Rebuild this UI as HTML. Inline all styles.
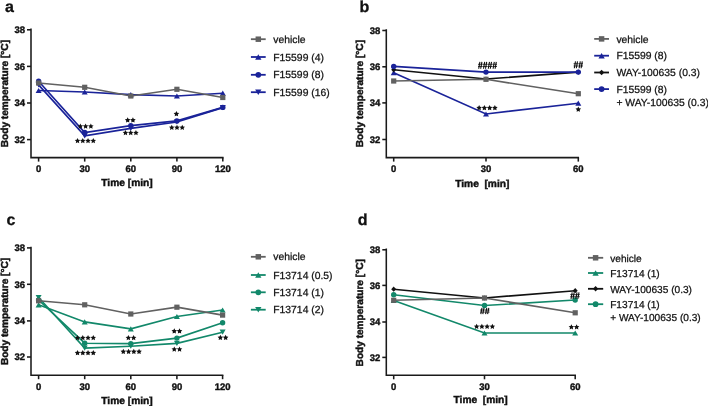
<!DOCTYPE html>
<html><head><meta charset="utf-8"><style>
html,body{margin:0;padding:0;background:#fff;width:708px;height:406px;overflow:hidden}
svg{display:block;font-family:"Liberation Sans", sans-serif;will-change:transform;filter:blur(0.35px)}
text{fill:#111;stroke:#111;font-family:"Liberation Sans", sans-serif;text-rendering:geometricPrecision}
.tk{font-size:9.5px;font-weight:bold;letter-spacing:-0.05px;stroke-width:0.4px}
.xl{font-size:10.2px;font-weight:bold;stroke-width:0.45px}
.yl{font-size:10.1px;font-weight:bold;stroke-width:0.45px}
.pl{font-size:16px;font-weight:bold;stroke-width:0.3px}
.lg{font-size:10.35px;stroke-width:0.25px}
</style></head><body>
<svg width="708" height="406" viewBox="0 0 708 406">
<path d="M31,29.2 V157.6 H222.8" fill="none" stroke="#1a1a1a" stroke-width="1.55" stroke-linejoin="miter" stroke-linecap="square"/><line x1="27" y1="29.8" x2="31" y2="29.8" stroke="#1a1a1a" stroke-width="1.55"/><text x="25" y="33.2" class="tk" text-anchor="end">38</text><line x1="27" y1="66.4" x2="31" y2="66.4" stroke="#1a1a1a" stroke-width="1.55"/><text x="25" y="69.8" class="tk" text-anchor="end">36</text><line x1="27" y1="103" x2="31" y2="103" stroke="#1a1a1a" stroke-width="1.55"/><text x="25" y="106.4" class="tk" text-anchor="end">34</text><line x1="27" y1="139.6" x2="31" y2="139.6" stroke="#1a1a1a" stroke-width="1.55"/><text x="25" y="143" class="tk" text-anchor="end">32</text><line x1="38.6" y1="157.6" x2="38.6" y2="161.6" stroke="#1a1a1a" stroke-width="1.55"/><text x="38.6" y="172.3" class="tk" text-anchor="middle">0</text><line x1="84.7" y1="157.6" x2="84.7" y2="161.6" stroke="#1a1a1a" stroke-width="1.55"/><text x="84.7" y="172.3" class="tk" text-anchor="middle">30</text><line x1="130.8" y1="157.6" x2="130.8" y2="161.6" stroke="#1a1a1a" stroke-width="1.55"/><text x="130.8" y="172.3" class="tk" text-anchor="middle">60</text><line x1="176.9" y1="157.6" x2="176.9" y2="161.6" stroke="#1a1a1a" stroke-width="1.55"/><text x="176.9" y="172.3" class="tk" text-anchor="middle">90</text><line x1="222.8" y1="157.6" x2="222.8" y2="161.6" stroke="#1a1a1a" stroke-width="1.55"/><text x="222.8" y="172.3" class="tk" text-anchor="middle">120</text><text x="127" y="185.6" class="xl" text-anchor="middle" xml:space="preserve">Time [min]</text><text transform="translate(8,93.6) rotate(-90)" x="0" y="0" class="yl" text-anchor="middle">Body temperature [°C]</text><text x="5" y="11.9" class="pl">a</text>
<polyline points="38.6,90.5 84.7,92 130.8,94.6 176.9,96 222.8,93.2" fill="none" stroke="#1a2399" stroke-width="1.65" stroke-linejoin="miter"/><polygon points="38.6,87.9 41.6,93.1 35.6,93.1" fill="#1a2399"/><polygon points="84.7,89.4 87.7,94.6 81.7,94.6" fill="#1a2399"/><polygon points="130.8,92 133.8,97.2 127.8,97.2" fill="#1a2399"/><polygon points="176.9,93.4 179.9,98.6 173.9,98.6" fill="#1a2399"/><polygon points="222.8,90.6 225.8,95.8 219.8,95.8" fill="#1a2399"/>
<polyline points="38.6,84.9 84.7,135.9 130.8,128.4 176.9,122 222.8,107.6" fill="none" stroke="#1a2399" stroke-width="1.65" stroke-linejoin="miter"/><polygon points="38.6,87.5 41.6,82.3 35.6,82.3" fill="#1a2399"/><polygon points="84.7,138.5 87.7,133.3 81.7,133.3" fill="#1a2399"/><polygon points="130.8,131 133.8,125.8 127.8,125.8" fill="#1a2399"/><polygon points="176.9,124.6 179.9,119.4 173.9,119.4" fill="#1a2399"/><polygon points="222.8,110.2 225.8,105 219.8,105" fill="#1a2399"/>
<polyline points="38.6,81.2 84.7,132.5 130.8,125.6 176.9,120.9 222.8,107.4" fill="none" stroke="#1a2399" stroke-width="1.65" stroke-linejoin="miter"/><circle cx="38.6" cy="81.2" r="2.7" fill="#1a2399"/><circle cx="84.7" cy="132.5" r="2.7" fill="#1a2399"/><circle cx="130.8" cy="125.6" r="2.7" fill="#1a2399"/><circle cx="176.9" cy="120.9" r="2.7" fill="#1a2399"/><circle cx="222.8" cy="107.4" r="2.7" fill="#1a2399"/>
<polyline points="38.6,83 84.7,87.3 130.8,96 176.9,89.3 222.8,97.5" fill="none" stroke="#616161" stroke-width="1.65" stroke-linejoin="miter"/><rect x="36" y="80.4" width="5.2" height="5.2" fill="#616161"/><rect x="82.1" y="84.7" width="5.2" height="5.2" fill="#616161"/><rect x="128.2" y="93.4" width="5.2" height="5.2" fill="#616161"/><rect x="174.3" y="86.7" width="5.2" height="5.2" fill="#616161"/><rect x="220.2" y="94.9" width="5.2" height="5.2" fill="#616161"/>
<polygon points="80.35,123.5 81.2,125.23 83.11,125.5 81.73,126.85 82.05,128.75 80.35,127.85 78.65,128.75 78.97,126.85 77.59,125.5 79.5,125.23" fill="#111"/><polygon points="85.6,123.5 86.45,125.23 88.36,125.5 86.98,126.85 87.3,128.75 85.6,127.85 83.9,128.75 84.22,126.85 82.84,125.5 84.75,125.23" fill="#111"/><polygon points="90.85,123.5 91.7,125.23 93.61,125.5 92.23,126.85 92.55,128.75 90.85,127.85 89.15,128.75 89.47,126.85 88.09,125.5 90,125.23" fill="#111"/><polygon points="77.53,137.9 78.38,139.63 80.28,139.9 78.9,141.25 79.23,143.15 77.53,142.25 75.82,143.15 76.15,141.25 74.77,139.9 76.67,139.63" fill="#111"/><polygon points="82.78,137.9 83.63,139.63 85.53,139.9 84.15,141.25 84.48,143.15 82.78,142.25 81.07,143.15 81.4,141.25 80.02,139.9 81.92,139.63" fill="#111"/><polygon points="88.03,137.9 88.88,139.63 90.78,139.9 89.4,141.25 89.73,143.15 88.03,142.25 86.32,143.15 86.65,141.25 85.27,139.9 87.17,139.63" fill="#111"/><polygon points="93.28,137.9 94.13,139.63 96.03,139.9 94.65,141.25 94.98,143.15 93.28,142.25 91.57,143.15 91.9,141.25 90.52,139.9 92.42,139.63" fill="#111"/>
<polygon points="127.68,117.3 128.53,119.03 130.43,119.3 129.05,120.65 129.38,122.55 127.68,121.65 125.97,122.55 126.3,120.65 124.92,119.3 126.82,119.03" fill="#111"/><polygon points="132.93,117.3 133.78,119.03 135.68,119.3 134.3,120.65 134.63,122.55 132.93,121.65 131.22,122.55 131.55,120.65 130.17,119.3 132.07,119.03" fill="#111"/><polygon points="125.45,129.9 126.3,131.63 128.21,131.9 126.83,133.25 127.15,135.15 125.45,134.25 123.75,135.15 124.07,133.25 122.69,131.9 124.6,131.63" fill="#111"/><polygon points="130.7,129.9 131.55,131.63 133.46,131.9 132.08,133.25 132.4,135.15 130.7,134.25 129,135.15 129.32,133.25 127.94,131.9 129.85,131.63" fill="#111"/><polygon points="135.95,129.9 136.8,131.63 138.71,131.9 137.33,133.25 137.65,135.15 135.95,134.25 134.25,135.15 134.57,133.25 133.19,131.9 135.1,131.63" fill="#111"/>
<polygon points="176.4,111.1 177.25,112.83 179.16,113.1 177.78,114.45 178.1,116.35 176.4,115.45 174.7,116.35 175.02,114.45 173.64,113.1 175.55,112.83" fill="#111"/><polygon points="171.75,124.7 172.6,126.43 174.51,126.7 173.13,128.05 173.45,129.95 171.75,129.05 170.05,129.95 170.37,128.05 168.99,126.7 170.9,126.43" fill="#111"/><polygon points="177,124.7 177.85,126.43 179.76,126.7 178.38,128.05 178.7,129.95 177,129.05 175.3,129.95 175.62,128.05 174.24,126.7 176.15,126.43" fill="#111"/><polygon points="182.25,124.7 183.1,126.43 185.01,126.7 183.63,128.05 183.95,129.95 182.25,129.05 180.55,129.95 180.87,128.05 179.49,126.7 181.4,126.43" fill="#111"/>
<line x1="250.9" y1="39.2" x2="265.7" y2="39.2" stroke="#616161" stroke-width="1.8"/><rect x="255.57" y="36.47" width="5.46" height="5.46" fill="#616161"/><text x="273.3" y="42.8" class="lg" style="font-size:10.35px">vehicle</text><line x1="250.9" y1="57" x2="265.7" y2="57" stroke="#1a2399" stroke-width="1.8"/><polygon points="258.3,54.27 261.45,59.73 255.15,59.73" fill="#1a2399"/><text x="273.3" y="60.6" class="lg" style="font-size:10.35px">F15599 (4)</text><line x1="250.9" y1="74.8" x2="265.7" y2="74.8" stroke="#1a2399" stroke-width="1.8"/><circle cx="258.3" cy="74.8" r="2.84" fill="#1a2399"/><text x="273.3" y="78.4" class="lg" style="font-size:10.35px">F15599 (8)</text><line x1="250.9" y1="92.2" x2="265.7" y2="92.2" stroke="#1a2399" stroke-width="1.8"/><polygon points="258.3,94.93 261.45,89.47 255.15,89.47" fill="#1a2399"/><text x="273.3" y="95.8" class="lg" style="font-size:10.35px">F15599 (16)</text>
<path d="M386.3,30 V157.6 H578.3" fill="none" stroke="#1a1a1a" stroke-width="1.55" stroke-linejoin="miter" stroke-linecap="square"/><line x1="382.3" y1="30.5" x2="386.3" y2="30.5" stroke="#1a1a1a" stroke-width="1.55"/><text x="380.3" y="33.9" class="tk" text-anchor="end">38</text><line x1="382.3" y1="66.8" x2="386.3" y2="66.8" stroke="#1a1a1a" stroke-width="1.55"/><text x="380.3" y="70.2" class="tk" text-anchor="end">36</text><line x1="382.3" y1="102.9" x2="386.3" y2="102.9" stroke="#1a1a1a" stroke-width="1.55"/><text x="380.3" y="106.3" class="tk" text-anchor="end">34</text><line x1="382.3" y1="139.5" x2="386.3" y2="139.5" stroke="#1a1a1a" stroke-width="1.55"/><text x="380.3" y="142.9" class="tk" text-anchor="end">32</text><line x1="393.7" y1="157.6" x2="393.7" y2="161.6" stroke="#1a1a1a" stroke-width="1.55"/><text x="393.7" y="172.3" class="tk" text-anchor="middle">0</text><line x1="486" y1="157.6" x2="486" y2="161.6" stroke="#1a1a1a" stroke-width="1.55"/><text x="486" y="172.3" class="tk" text-anchor="middle">30</text><line x1="578.3" y1="157.6" x2="578.3" y2="161.6" stroke="#1a1a1a" stroke-width="1.55"/><text x="578.3" y="172.3" class="tk" text-anchor="middle">60</text><text x="482.3" y="187" class="xl" text-anchor="middle" xml:space="preserve">Time  [min]</text><text transform="translate(363.3,93.6) rotate(-90)" x="0" y="0" class="yl" text-anchor="middle">Body temperature [°C]</text><text x="359.5" y="11.6" class="pl">b</text>
<polyline points="393.7,72.7 486,114 578.3,103.2" fill="none" stroke="#1a2399" stroke-width="1.65" stroke-linejoin="miter"/><polygon points="393.7,70.1 396.7,75.3 390.7,75.3" fill="#1a2399"/><polygon points="486,111.4 489,116.6 483,116.6" fill="#1a2399"/><polygon points="578.3,100.6 581.3,105.8 575.3,105.8" fill="#1a2399"/>
<polyline points="393.7,69.8 486,79 578.3,72.1" fill="none" stroke="#111111" stroke-width="1.65" stroke-linejoin="miter"/><polygon points="393.7,67.2 396.2,69.8 393.7,72.4 391.2,69.8" fill="#111111"/><polygon points="486,76.4 488.5,79 486,81.6 483.5,79" fill="#111111"/><polygon points="578.3,69.5 580.8,72.1 578.3,74.7 575.8,72.1" fill="#111111"/>
<polyline points="393.7,66.4 486,72.1 578.3,72.1" fill="none" stroke="#1a2399" stroke-width="1.65" stroke-linejoin="miter"/><circle cx="393.7" cy="66.4" r="2.7" fill="#1a2399"/><circle cx="486" cy="72.1" r="2.7" fill="#1a2399"/><circle cx="578.3" cy="72.1" r="2.7" fill="#1a2399"/>
<polyline points="393.7,81 486,79.3 578.3,93.7" fill="none" stroke="#616161" stroke-width="1.65" stroke-linejoin="miter"/><rect x="391.1" y="78.4" width="5.2" height="5.2" fill="#616161"/><rect x="483.4" y="76.7" width="5.2" height="5.2" fill="#616161"/><rect x="575.7" y="91.1" width="5.2" height="5.2" fill="#616161"/>
<path d="M479.9,61.85 L478.7,68.75 M481.9,61.85 L480.7,68.75 M484.7,61.85 L483.5,68.75 M486.7,61.85 L485.5,68.75 M489.5,61.85 L488.3,68.75 M491.5,61.85 L490.3,68.75 M494.3,61.85 L493.1,68.75 M496.3,61.85 L495.1,68.75 " stroke="#111" stroke-width="1.1" fill="none"/><path d="M478,64.27 H482.6 M478,66.47 H482.6 M482.8,64.27 H487.4 M482.8,66.47 H487.4 M487.6,64.27 H492.2 M487.6,66.47 H492.2 M492.4,64.27 H497 M492.4,66.47 H497 " stroke="#111" stroke-width="0.85" fill="none"/><polygon points="479.12,105.1 479.98,106.83 481.88,107.1 480.5,108.45 480.83,110.35 479.12,109.45 477.42,110.35 477.75,108.45 476.37,107.1 478.27,106.83" fill="#111"/><polygon points="484.38,105.1 485.23,106.83 487.13,107.1 485.75,108.45 486.08,110.35 484.38,109.45 482.67,110.35 483,108.45 481.62,107.1 483.52,106.83" fill="#111"/><polygon points="489.62,105.1 490.48,106.83 492.38,107.1 491,108.45 491.33,110.35 489.62,109.45 487.92,110.35 488.25,108.45 486.87,107.1 488.77,106.83" fill="#111"/><polygon points="494.88,105.1 495.73,106.83 497.63,107.1 496.25,108.45 496.58,110.35 494.88,109.45 493.17,110.35 493.5,108.45 492.12,107.1 494.02,106.83" fill="#111"/>
<path d="M575.5,61.35 L574.3,68.25 M577.5,61.35 L576.3,68.25 M580.3,61.35 L579.1,68.25 M582.3,61.35 L581.1,68.25 " stroke="#111" stroke-width="1.1" fill="none"/><path d="M573.6,63.76 H578.2 M573.6,65.97 H578.2 M578.4,63.76 H583 M578.4,65.97 H583 " stroke="#111" stroke-width="0.85" fill="none"/><polygon points="578.3,106.6 579.15,108.33 581.06,108.6 579.68,109.95 580,111.85 578.3,110.95 576.6,111.85 576.92,109.95 575.54,108.6 577.45,108.33" fill="#111"/>
<line x1="594.2" y1="38.9" x2="609" y2="38.9" stroke="#616161" stroke-width="1.8"/><rect x="598.87" y="36.17" width="5.46" height="5.46" fill="#616161"/><text x="616.4" y="42.5" class="lg" style="font-size:10.35px">vehicle</text><line x1="594.2" y1="55.7" x2="609" y2="55.7" stroke="#1a2399" stroke-width="1.8"/><polygon points="601.6,52.97 604.75,58.43 598.45,58.43" fill="#1a2399"/><text x="616.4" y="59.3" class="lg" style="font-size:10.35px">F15599 (8)</text><line x1="594.2" y1="72.5" x2="609" y2="72.5" stroke="#111111" stroke-width="1.8"/><polygon points="601.6,69.77 604.23,72.5 601.6,75.23 598.98,72.5" fill="#111111"/><text x="616.4" y="76.1" class="lg" style="font-size:10.35px">WAY-100635 (0.3)</text><line x1="594.2" y1="89.1" x2="609" y2="89.1" stroke="#1a2399" stroke-width="1.8"/><circle cx="601.6" cy="89.1" r="2.84" fill="#1a2399"/><text x="616.4" y="92.7" class="lg" style="font-size:10.35px">F15599 (8)</text><text x="616.4" y="105.6" class="lg" style="font-size:10.35px">+ WAY-100635 (0.3)</text>
<path d="M31,247.4 V375.2 H222.6" fill="none" stroke="#1a1a1a" stroke-width="1.55" stroke-linejoin="miter" stroke-linecap="square"/><line x1="27" y1="247.9" x2="31" y2="247.9" stroke="#1a1a1a" stroke-width="1.55"/><text x="25" y="251.3" class="tk" text-anchor="end">38</text><line x1="27" y1="284.3" x2="31" y2="284.3" stroke="#1a1a1a" stroke-width="1.55"/><text x="25" y="287.7" class="tk" text-anchor="end">36</text><line x1="27" y1="320.9" x2="31" y2="320.9" stroke="#1a1a1a" stroke-width="1.55"/><text x="25" y="324.3" class="tk" text-anchor="end">34</text><line x1="27" y1="357" x2="31" y2="357" stroke="#1a1a1a" stroke-width="1.55"/><text x="25" y="360.4" class="tk" text-anchor="end">32</text><line x1="38.6" y1="375.2" x2="38.6" y2="379.2" stroke="#1a1a1a" stroke-width="1.55"/><text x="38.6" y="389.9" class="tk" text-anchor="middle">0</text><line x1="84.7" y1="375.2" x2="84.7" y2="379.2" stroke="#1a1a1a" stroke-width="1.55"/><text x="84.7" y="389.9" class="tk" text-anchor="middle">30</text><line x1="130.8" y1="375.2" x2="130.8" y2="379.2" stroke="#1a1a1a" stroke-width="1.55"/><text x="130.8" y="389.9" class="tk" text-anchor="middle">60</text><line x1="176.9" y1="375.2" x2="176.9" y2="379.2" stroke="#1a1a1a" stroke-width="1.55"/><text x="176.9" y="389.9" class="tk" text-anchor="middle">90</text><line x1="222.6" y1="375.2" x2="222.6" y2="379.2" stroke="#1a1a1a" stroke-width="1.55"/><text x="222.6" y="389.9" class="tk" text-anchor="middle">120</text><text x="127" y="404" class="xl" text-anchor="middle" xml:space="preserve">Time [min]</text><text transform="translate(8,311.5) rotate(-90)" x="0" y="0" class="yl" text-anchor="middle">Body temperature [°C]</text><text x="6.5" y="224.7" class="pl">c</text>
<polyline points="38.6,304.8 84.7,321.9 130.8,328.8 176.9,316.5 222.6,310" fill="none" stroke="#12886a" stroke-width="1.65" stroke-linejoin="miter"/><polygon points="38.6,302.2 41.6,307.4 35.6,307.4" fill="#12886a"/><polygon points="84.7,319.3 87.7,324.5 81.7,324.5" fill="#12886a"/><polygon points="130.8,326.2 133.8,331.4 127.8,331.4" fill="#12886a"/><polygon points="176.9,313.9 179.9,319.1 173.9,319.1" fill="#12886a"/><polygon points="222.6,307.4 225.6,312.6 219.6,312.6" fill="#12886a"/>
<polyline points="38.6,297.5 84.7,348.1 130.8,346.2 176.9,343.4 222.6,332.2" fill="none" stroke="#12886a" stroke-width="1.65" stroke-linejoin="miter"/><polygon points="38.6,300.1 41.6,294.9 35.6,294.9" fill="#12886a"/><polygon points="84.7,350.7 87.7,345.5 81.7,345.5" fill="#12886a"/><polygon points="130.8,348.8 133.8,343.6 127.8,343.6" fill="#12886a"/><polygon points="176.9,346 179.9,340.8 173.9,340.8" fill="#12886a"/><polygon points="222.6,334.8 225.6,329.6 219.6,329.6" fill="#12886a"/>
<polyline points="38.6,300 84.7,343.2 130.8,343.6 176.9,338.1 222.6,322.8" fill="none" stroke="#12886a" stroke-width="1.65" stroke-linejoin="miter"/><circle cx="38.6" cy="300" r="2.7" fill="#12886a"/><circle cx="84.7" cy="343.2" r="2.7" fill="#12886a"/><circle cx="130.8" cy="343.6" r="2.7" fill="#12886a"/><circle cx="176.9" cy="338.1" r="2.7" fill="#12886a"/><circle cx="222.6" cy="322.8" r="2.7" fill="#12886a"/>
<polyline points="38.6,300.8 84.7,304.8 130.8,314 176.9,307.2 222.6,315.1" fill="none" stroke="#616161" stroke-width="1.65" stroke-linejoin="miter"/><rect x="36" y="298.2" width="5.2" height="5.2" fill="#616161"/><rect x="82.1" y="302.2" width="5.2" height="5.2" fill="#616161"/><rect x="128.2" y="311.4" width="5.2" height="5.2" fill="#616161"/><rect x="174.3" y="304.6" width="5.2" height="5.2" fill="#616161"/><rect x="220" y="312.5" width="5.2" height="5.2" fill="#616161"/>
<polygon points="77.53,335 78.38,336.73 80.28,337 78.9,338.35 79.23,340.25 77.53,339.35 75.82,340.25 76.15,338.35 74.77,337 76.67,336.73" fill="#111"/><polygon points="82.78,335 83.63,336.73 85.53,337 84.15,338.35 84.48,340.25 82.78,339.35 81.07,340.25 81.4,338.35 80.02,337 81.92,336.73" fill="#111"/><polygon points="88.03,335 88.88,336.73 90.78,337 89.4,338.35 89.73,340.25 88.03,339.35 86.32,340.25 86.65,338.35 85.27,337 87.17,336.73" fill="#111"/><polygon points="93.28,335 94.13,336.73 96.03,337 94.65,338.35 94.98,340.25 93.28,339.35 91.57,340.25 91.9,338.35 90.52,337 92.42,336.73" fill="#111"/><polygon points="77.53,350.1 78.38,351.83 80.28,352.1 78.9,353.45 79.23,355.35 77.53,354.45 75.82,355.35 76.15,353.45 74.77,352.1 76.67,351.83" fill="#111"/><polygon points="82.78,350.1 83.63,351.83 85.53,352.1 84.15,353.45 84.48,355.35 82.78,354.45 81.07,355.35 81.4,353.45 80.02,352.1 81.92,351.83" fill="#111"/><polygon points="88.03,350.1 88.88,351.83 90.78,352.1 89.4,353.45 89.73,355.35 88.03,354.45 86.32,355.35 86.65,353.45 85.27,352.1 87.17,351.83" fill="#111"/><polygon points="93.28,350.1 94.13,351.83 96.03,352.1 94.65,353.45 94.98,355.35 93.28,354.45 91.57,355.35 91.9,353.45 90.52,352.1 92.42,351.83" fill="#111"/>
<polygon points="128.38,335 129.23,336.73 131.13,337 129.75,338.35 130.08,340.25 128.38,339.35 126.67,340.25 127,338.35 125.62,337 127.52,336.73" fill="#111"/><polygon points="133.62,335 134.48,336.73 136.38,337 135,338.35 135.33,340.25 133.62,339.35 131.92,340.25 132.25,338.35 130.87,337 132.77,336.73" fill="#111"/><polygon points="123.32,348.8 124.18,350.53 126.08,350.8 124.7,352.15 125.03,354.05 123.32,353.15 121.62,354.05 121.95,352.15 120.57,350.8 122.47,350.53" fill="#111"/><polygon points="128.57,348.8 129.43,350.53 131.33,350.8 129.95,352.15 130.28,354.05 128.57,353.15 126.87,354.05 127.2,352.15 125.82,350.8 127.72,350.53" fill="#111"/><polygon points="133.82,348.8 134.68,350.53 136.58,350.8 135.2,352.15 135.53,354.05 133.82,353.15 132.12,354.05 132.45,352.15 131.07,350.8 132.97,350.53" fill="#111"/><polygon points="139.07,348.8 139.93,350.53 141.83,350.8 140.45,352.15 140.78,354.05 139.07,353.15 137.37,354.05 137.7,352.15 136.32,350.8 138.22,350.53" fill="#111"/>
<polygon points="174.28,328.3 175.13,330.03 177.03,330.3 175.65,331.65 175.98,333.55 174.28,332.65 172.57,333.55 172.9,331.65 171.52,330.3 173.42,330.03" fill="#111"/><polygon points="179.53,328.3 180.38,330.03 182.28,330.3 180.9,331.65 181.23,333.55 179.53,332.65 177.82,333.55 178.15,331.65 176.77,330.3 178.67,330.03" fill="#111"/><polygon points="174.28,346.5 175.13,348.23 177.03,348.5 175.65,349.85 175.98,351.75 174.28,350.85 172.57,351.75 172.9,349.85 171.52,348.5 173.42,348.23" fill="#111"/><polygon points="179.53,346.5 180.38,348.23 182.28,348.5 180.9,349.85 181.23,351.75 179.53,350.85 177.82,351.75 178.15,349.85 176.77,348.5 178.67,348.23" fill="#111"/>
<polygon points="220.38,334.8 221.23,336.53 223.13,336.8 221.75,338.15 222.08,340.05 220.38,339.15 218.67,340.05 219,338.15 217.62,336.8 219.52,336.53" fill="#111"/><polygon points="225.62,334.8 226.48,336.53 228.38,336.8 227,338.15 227.33,340.05 225.62,339.15 223.92,340.05 224.25,338.15 222.87,336.8 224.77,336.53" fill="#111"/>
<line x1="250.9" y1="256.8" x2="265.7" y2="256.8" stroke="#616161" stroke-width="1.8"/><rect x="255.57" y="254.07" width="5.46" height="5.46" fill="#616161"/><text x="273.3" y="260.4" class="lg" style="font-size:10.35px">vehicle</text><line x1="250.9" y1="275" x2="265.7" y2="275" stroke="#12886a" stroke-width="1.8"/><polygon points="258.3,272.27 261.45,277.73 255.15,277.73" fill="#12886a"/><text x="273.3" y="278.6" class="lg" style="font-size:10.35px">F13714 (0.5)</text><line x1="250.9" y1="292.3" x2="265.7" y2="292.3" stroke="#12886a" stroke-width="1.8"/><circle cx="258.3" cy="292.3" r="2.84" fill="#12886a"/><text x="273.3" y="295.9" class="lg" style="font-size:10.35px">F13714 (1)</text><line x1="250.9" y1="309.7" x2="265.7" y2="309.7" stroke="#12886a" stroke-width="1.8"/><polygon points="258.3,312.43 261.45,306.97 255.15,306.97" fill="#12886a"/><text x="273.3" y="313.3" class="lg" style="font-size:10.35px">F13714 (2)</text>
<path d="M386.3,249.3 V375.3 H575.2" fill="none" stroke="#1a1a1a" stroke-width="1.55" stroke-linejoin="miter" stroke-linecap="square"/><line x1="382.3" y1="249.8" x2="386.3" y2="249.8" stroke="#1a1a1a" stroke-width="1.55"/><text x="380.3" y="253.2" class="tk" text-anchor="end">38</text><line x1="382.3" y1="285.4" x2="386.3" y2="285.4" stroke="#1a1a1a" stroke-width="1.55"/><text x="380.3" y="288.8" class="tk" text-anchor="end">36</text><line x1="382.3" y1="322" x2="386.3" y2="322" stroke="#1a1a1a" stroke-width="1.55"/><text x="380.3" y="325.4" class="tk" text-anchor="end">34</text><line x1="382.3" y1="357.4" x2="386.3" y2="357.4" stroke="#1a1a1a" stroke-width="1.55"/><text x="380.3" y="360.8" class="tk" text-anchor="end">32</text><line x1="393.7" y1="375.3" x2="393.7" y2="379.3" stroke="#1a1a1a" stroke-width="1.55"/><text x="393.7" y="390" class="tk" text-anchor="middle">0</text><line x1="484.5" y1="375.3" x2="484.5" y2="379.3" stroke="#1a1a1a" stroke-width="1.55"/><text x="484.5" y="390" class="tk" text-anchor="middle">30</text><line x1="575.2" y1="375.3" x2="575.2" y2="379.3" stroke="#1a1a1a" stroke-width="1.55"/><text x="575.2" y="390" class="tk" text-anchor="middle">60</text><text x="480.6" y="402.9" class="xl" text-anchor="middle" xml:space="preserve">Time  [min]</text><text transform="translate(363.3,312.8) rotate(-90)" x="0" y="0" class="yl" text-anchor="middle">Body temperature [°C]</text><text x="357.8" y="225.2" class="pl">d</text>
<polyline points="393.7,300.5 484.5,333 575.2,333" fill="none" stroke="#12886a" stroke-width="1.65" stroke-linejoin="miter"/><polygon points="393.7,297.9 396.7,303.1 390.7,303.1" fill="#12886a"/><polygon points="484.5,330.4 487.5,335.6 481.5,335.6" fill="#12886a"/><polygon points="575.2,330.4 578.2,335.6 572.2,335.6" fill="#12886a"/>
<polyline points="393.7,289.2 484.5,298 575.2,290.7" fill="none" stroke="#111111" stroke-width="1.65" stroke-linejoin="miter"/><polygon points="393.7,286.6 396.2,289.2 393.7,291.8 391.2,289.2" fill="#111111"/><polygon points="484.5,295.4 487,298 484.5,300.6 482,298" fill="#111111"/><polygon points="575.2,288.1 577.7,290.7 575.2,293.3 572.7,290.7" fill="#111111"/>
<polyline points="393.7,294.8 484.5,305.5 575.2,300" fill="none" stroke="#12886a" stroke-width="1.65" stroke-linejoin="miter"/><circle cx="393.7" cy="294.8" r="2.7" fill="#12886a"/><circle cx="484.5" cy="305.5" r="2.7" fill="#12886a"/><circle cx="575.2" cy="300" r="2.7" fill="#12886a"/>
<polyline points="393.7,300.3 484.5,298 575.2,312.8" fill="none" stroke="#616161" stroke-width="1.65" stroke-linejoin="miter"/><rect x="391.1" y="297.7" width="5.2" height="5.2" fill="#616161"/><rect x="481.9" y="295.4" width="5.2" height="5.2" fill="#616161"/><rect x="572.6" y="310.2" width="5.2" height="5.2" fill="#616161"/>
<path d="M482,307.85 L480.8,314.15 M484,307.85 L482.8,314.15 M486.8,307.85 L485.6,314.15 M488.8,307.85 L487.6,314.15 " stroke="#111" stroke-width="1.1" fill="none"/><path d="M480.1,310.06 H484.7 M480.1,312.07 H484.7 M484.9,310.06 H489.5 M484.9,312.07 H489.5 " stroke="#111" stroke-width="0.85" fill="none"/><polygon points="476.62,323.7 477.48,325.43 479.38,325.7 478,327.05 478.33,328.95 476.62,328.05 474.92,328.95 475.25,327.05 473.87,325.7 475.77,325.43" fill="#111"/><polygon points="481.88,323.7 482.73,325.43 484.63,325.7 483.25,327.05 483.58,328.95 481.88,328.05 480.17,328.95 480.5,327.05 479.12,325.7 481.02,325.43" fill="#111"/><polygon points="487.12,323.7 487.98,325.43 489.88,325.7 488.5,327.05 488.83,328.95 487.12,328.05 485.42,328.95 485.75,327.05 484.37,325.7 486.27,325.43" fill="#111"/><polygon points="492.38,323.7 493.23,325.43 495.13,325.7 493.75,327.05 494.08,328.95 492.38,328.05 490.67,328.95 491,327.05 489.62,325.7 491.52,325.43" fill="#111"/>
<path d="M572.2,292.35 L571,298.85 M574.2,292.35 L573,298.85 M577,292.35 L575.8,298.85 M579,292.35 L577.8,298.85 " stroke="#111" stroke-width="1.1" fill="none"/><path d="M570.3,294.62 H574.9 M570.3,296.71 H574.9 M575.1,294.62 H579.7 M575.1,296.71 H579.7 " stroke="#111" stroke-width="0.85" fill="none"/><polygon points="571.38,324.2 572.23,325.93 574.13,326.2 572.75,327.55 573.08,329.45 571.38,328.55 569.67,329.45 570,327.55 568.62,326.2 570.52,325.93" fill="#111"/><polygon points="576.62,324.2 577.48,325.93 579.38,326.2 578,327.55 578.33,329.45 576.62,328.55 574.92,329.45 575.25,327.55 573.87,326.2 575.77,325.93" fill="#111"/>
<line x1="588" y1="257.8" x2="603.2" y2="257.8" stroke="#616161" stroke-width="1.8"/><rect x="592.87" y="255.07" width="5.46" height="5.46" fill="#616161"/><text x="610.2" y="261.9" class="lg" style="font-size:10.15px">vehicle</text><line x1="588" y1="273" x2="603.2" y2="273" stroke="#12886a" stroke-width="1.8"/><polygon points="595.6,270.27 598.75,275.73 592.45,275.73" fill="#12886a"/><text x="610.2" y="277.1" class="lg" style="font-size:10.15px">F13714 (1)</text><line x1="588" y1="288.8" x2="603.2" y2="288.8" stroke="#111111" stroke-width="1.8"/><polygon points="595.6,286.07 598.23,288.8 595.6,291.53 592.98,288.8" fill="#111111"/><text x="610.2" y="292.9" class="lg" style="font-size:10.15px">WAY-100635 (0.3)</text><line x1="588" y1="304.2" x2="603.2" y2="304.2" stroke="#12886a" stroke-width="1.8"/><circle cx="595.6" cy="304.2" r="2.84" fill="#12886a"/><text x="610.2" y="308.3" class="lg" style="font-size:10.15px">F13714 (1)</text><text x="610.2" y="320.5" class="lg" style="font-size:10.15px">+ WAY-100635 (0.3)</text>
</svg>
</body></html>
